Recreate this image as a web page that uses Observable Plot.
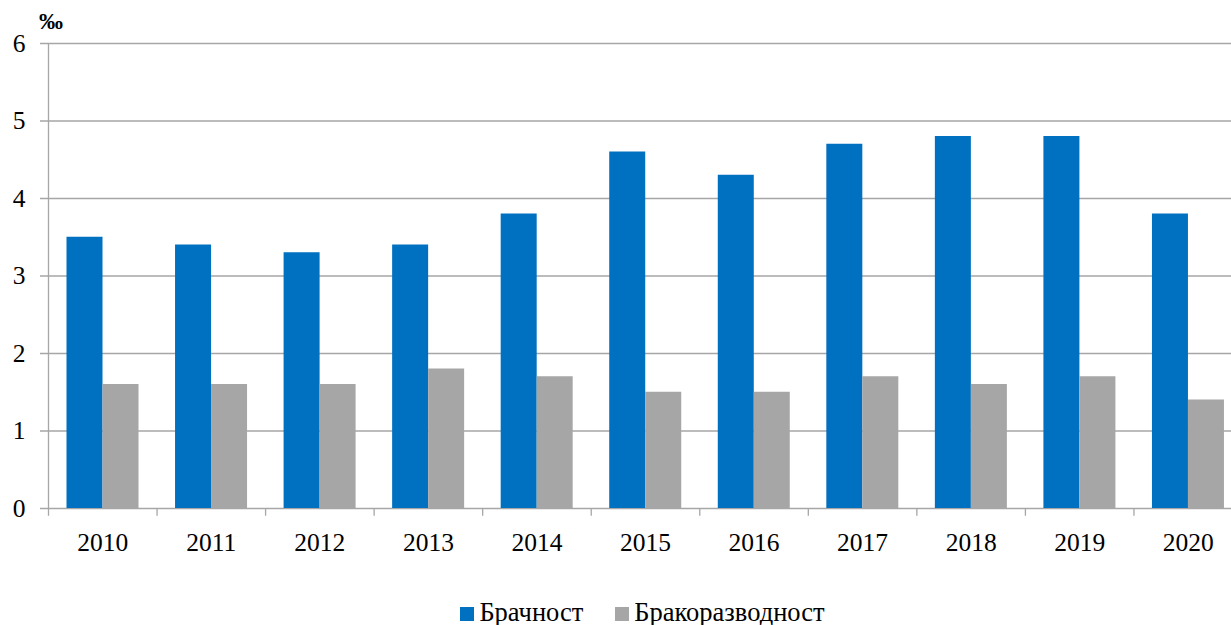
<!DOCTYPE html>
<html><head><meta charset="utf-8">
<script src="https://cdn.jsdelivr.net/npm/d3@7"></script>
<script src="https://cdn.jsdelivr.net/npm/@observablehq/plot@0.6"></script>
<style>
html,body{margin:0;padding:0;background:#fff;overflow:hidden;width:1231px;height:625px;}
#wrap{position:relative;width:1231px;height:625px;overflow:hidden;font-family:"Liberation Serif","Times New Roman",serif;}
#chart svg{max-width:none !important;}
#unit{position:absolute;left:39px;top:8px;font-weight:bold;font-size:24px;}
#legend{position:absolute;left:27px;width:1231px;top:599px;height:26px;text-align:center;font-size:26.5px;white-space:nowrap;line-height:26px;}
#legend span.sw{display:inline-block;width:14px;height:14px;margin-right:5px;vertical-align:0px;}
#legend span.item{margin:0 16px;}
</style></head>
<body><div id="wrap"><div id="chart"></div><div id="unit">‰</div><div id="legend"></div></div>
<script>
const years = ["2010","2011","2012","2013","2014","2015","2016","2017","2018","2019","2020"];
const seriesNames = ["Брачност","Бракоразводност"];
const marriage = [3.5,3.4,3.3,3.4,3.8,4.6,4.3,4.7,4.8,4.8,3.8];
const divorce = [1.6,1.6,1.6,1.8,1.7,1.5,1.5,1.7,1.6,1.7,1.4];
const colors = ["#0070C0","#A6A6A6"];
const yTicks = [0,1,2,3,4,5,6];

const W = 1242, ML = 48, MR = 0;
const bw = (W - ML - MR) / years.length;
const dataM = years.map((y,i)=>({year:y, value:marriage[i]}));
const dataD = years.map((y,i)=>({year:y, value:divorce[i]}));

const chart = Plot.plot({
  width: W, height: 600,
  marginLeft: ML, marginRight: MR, marginTop: 43, marginBottom: 92,
  style: {fontFamily: '"Liberation Serif","Times New Roman",serif', fontSize: "25.5px", color: "#000", background: "#fff", overflow: "visible", maxWidth: "none"},
  x: {domain: years, padding: 0, axis: null, round: false},
  y: {domain: [0,6], axis: null},
  marks: [
    Plot.ruleY(yTicks, {y: d=>d, stroke: "#a6a6a6", strokeWidth: 1.3, insetLeft: -8}),
    Plot.barY(dataM, {x: "year", y: "value", fill: colors[0], insetLeft: 18.5, insetRight: bw - 18.5 - 36}),
    Plot.barY(dataD, {x: "year", y: "value", fill: colors[1], insetLeft: 18.5 + 36, insetRight: bw - 18.5 - 72}),
    Plot.ruleX(years, {x: d=>d, dx: -bw/2, y1: -0.1, y2: 0, stroke: "#a6a6a6", strokeWidth: 1.3}),
    Plot.ruleX([years[0]], {x: d=>d, dx: -bw/2, y1: 0, y2: 6, stroke: "#a6a6a6", strokeWidth: 1.3}),
    Plot.axisX({tickSize: 0, tickPadding: 24, fontSize: 25.5, color:"#000", label: null}),
    Plot.axisY(yTicks, {tickSize: 0, tickPadding: 23, fontSize: 25.5, color:"#000", label: null, tickFormat: d=>String(d)})
  ]
});
document.getElementById("chart").appendChild(chart);

const lg = document.getElementById("legend");
seriesNames.forEach((n,i)=>{
  const it = document.createElement("span"); it.className="item";
  const sw = document.createElement("span"); sw.className="sw"; sw.style.background = colors[i];
  it.appendChild(sw); it.appendChild(document.createTextNode(n)); lg.appendChild(it);
});
</script></body></html>
